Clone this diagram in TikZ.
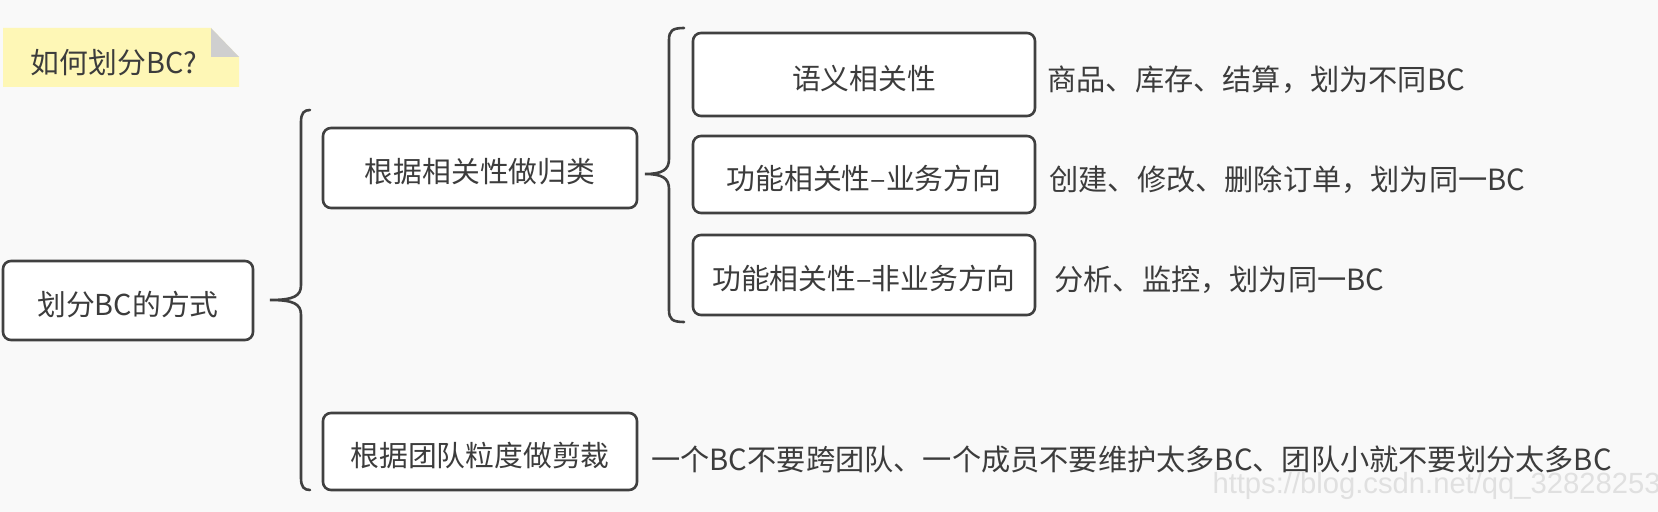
\documentclass[tikz,border=0pt]{standalone}
\usepackage{fontspec}
\setmainfont{Noto Sans CJK SC}
\newfontfamily\wmfont{Liberation Sans}
\definecolor{bgc}{HTML}{F9F9F9}
\definecolor{linec}{HTML}{404040}
\definecolor{txt}{HTML}{3C3C3C}
\definecolor{notey}{HTML}{FEF7B6}
\definecolor{foldc}{HTML}{CFCFCF}
\definecolor{wmc}{HTML}{E0E0E0}
\newcommand{\drawbrace}[6]{% tipx, linex, hookx, topy, midy, boty
  \draw[conn] (#3,#4) .. controls (#2+3,#4) and (#2,#4+3) .. (#2,#4+12)
    -- (#2,#5-15) .. controls (#2,#5-4) and (#2-7,#5) .. (#1,#5)
    .. controls (#2-7,#5) and (#2,#5+4) .. (#2,#5+15)
    -- (#2,#6-12) .. controls (#2,#6-3) and (#2+3,#6) .. (#3,#6);}
\tikzset{
  cjk/.style={inner sep=0pt, text=txt, font=\fontsize{14.4pt}{16pt}\selectfont,
    text height=15pt, text depth=0pt},
  box/.style={cjk, draw=linec, line width=1.3pt, fill=white, rounded corners=4pt},
  lbl/.style={cjk, anchor=west, font=\fontsize{14.6pt}{16pt}\selectfont},
  conn/.style={draw=linec, line width=1.3pt, line cap=round}
}
\begin{document}
\begin{tikzpicture}[x=0.5pt,y=-0.5pt]
\useasboundingbox (0,0) rectangle (1658,512);
\fill[bgc] (0,0) rectangle (1658,512);

% sticky note
\fill[notey] (3,28) -- (211,28) -- (239,57) -- (239,87) -- (3,87) -- cycle;
\fill[foldc] (211,28) -- (239,57) -- (211,57) -- cycle;
\node[cjk] (note) at (114,59) {如何划分BC?};

% boxes
\node[box, minimum width=125pt, minimum height=39.5pt] (root) at (128,300.5) {划分BC的方式};
\node[box, minimum width=157pt, minimum height=40pt] (l1a) at (480,168) {根据相关性做归类};
\node[box, minimum width=157pt, minimum height=38.5pt] (l1b) at (480,451.5) {根据团队粒度做剪裁};
\node[box, minimum width=171pt, minimum height=41.5pt] (l2a) at (864,74.5) {语义相关性};
\node[box, minimum width=171pt, minimum height=38.5pt] (l2b) at (864,174.5) {功能相关性–业务方向};
\node[box, minimum width=171pt, minimum height=40pt] (l2c) at (864,275) {功能相关性–非业务方向};

% labels
\node[lbl] (la) at (1047,75.6) {商品、库存、结算，划为不同BC};
\node[lbl] (lb) at (1049,175.6) {创建、修改、删除订单，划为同一BC};
\node[lbl] (lc) at (1054,275.6) {分析、监控，划为同一BC};
\node[lbl] (ld) at (651,455.6) {一个BC不要跨团队、一个成员不要维护太多BC、团队小就不要划分太多BC};

% braces
\drawbrace{270}{301}{310}{110}{300}{490}
\drawbrace{645}{669}{684}{28}{174}{322}

% watermark
\node[anchor=east, inner sep=0pt, text=wmc, font=\wmfont\fontsize{14.6pt}{16pt}\selectfont] (wm) at (1661,486) {https://blog.csdn.net/qq\_32828253};
\end{tikzpicture}
\end{document}
